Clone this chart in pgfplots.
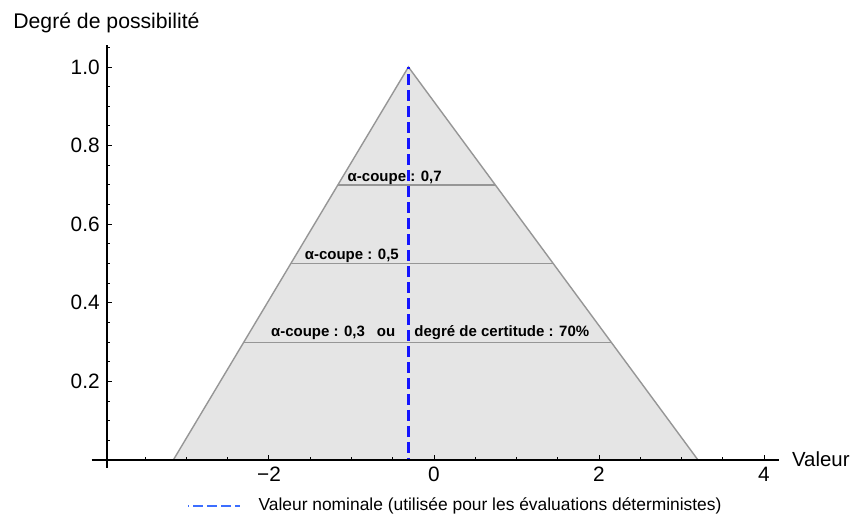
\documentclass[border=0pt]{standalone}
\usepackage{fontspec}
\setmainfont{Liberation Sans}
\usepackage{pgfplots}
\pgfplotsset{compat=1.18}

\definecolor{fillgray}{RGB}{229,229,229}
\definecolor{edgegray}{RGB}{150,150,150}
\definecolor{nomblue}{RGB}{20,20,255}
\definecolor{legblue}{RGB}{60,110,255}

\begin{document}
\begin{tikzpicture}
\begin{axis}[
  x=41.25pt, y=196.5pt,
  xmin=-3.967, xmax=4.18, ymin=0, ymax=1.056,
  axis x line=bottom, axis y line=left,
  axis line style={-, line width=1pt, black},
  x axis line style={shorten <=-7.5pt},
  y axis line style={shorten <=-4pt},
  axis on top,
  clip=false,
  tick align=inside,
  major tick length=2.6pt, minor tick length=1.6pt,
  tick style={black, line width=0.5pt},
  xtick={-2,0,2,4}, xticklabels={−2,0,2,4},
  minor xtick={-3.5,-3,-2.5,-1.5,-1,-0.5,0.5,1,1.5,2.5,3,3.5},
  ytick={0.2,0.4,0.6,0.8,1.0}, yticklabels={0.2,0.4,0.6,0.8,1.0},
  minor ytick={0.05,0.1,0.15,0.25,0.3,0.35,0.45,0.5,0.55,0.65,0.7,0.75,0.85,0.9,0.95,1.05},
  ticklabel style={font=\fontsize{10.4}{12}\selectfont},
  legend style={at={(0.1194,-0.1108)}, anchor=west, draw=none, fill=none,
                inner sep=0pt, font=\fontsize{8.7}{10}\selectfont},
  legend cell align=left,
]
% triangular possibility distribution: support [-3.16, 3.2], mode -0.31
\addplot[fill=fillgray, draw=edgegray, line width=0.7pt, forget plot]
  coordinates {(-3.16,0) (-0.31,1) (3.2,0)} -- cycle;

% alpha-cuts
\addplot[edgegray, line width=0.6pt, forget plot] coordinates {(-1.165,0.7) (0.743,0.7)};
\addplot[edgegray, line width=0.6pt, forget plot] coordinates {(-1.735,0.5) (1.445,0.5)};
\addplot[edgegray, line width=0.6pt, forget plot] coordinates {(-2.305,0.3) (2.147,0.3)};

% nominal value
\addplot[nomblue, line width=1.4pt, dash pattern=on 5.5pt off 2.5pt, dash phase=4.5pt,
  legend image code/.code={\draw[line width=0.8pt, color=legblue, dash pattern=on 5pt off 2pt]
    (0pt,0pt) -- (26pt,0pt); \path (32.5pt,0pt);}]
  coordinates {(-0.31,1) (-0.31,0)};
\addlegendentry{Valeur nominale (utilisée pour les évaluations déterministes)}

\begin{scope}[every node/.style={inner sep=0pt, font=\bfseries\fontsize{7.5}{9}\selectfont}]
\node[anchor=base] at (axis cs:-0.476,0.708) {α-coupe : 0,7};
\node[anchor=base] at (axis cs:-0.996,0.511) {α-coupe : 0,5};
\node[anchor=base east] at (axis cs:-0.464,0.3137) {α-coupe : 0,3\hspace{6pt}ou};
\node[anchor=base west] at (axis cs:-0.242,0.3137) {degré de certitude : 70\%};
\end{scope}

\node[anchor=base west, inner sep=0pt, font=\fontsize{10.6}{12}\selectfont]
  at (axis cs:-5.103,1.0985) {Degré de possibilité};
\node[anchor=base west, inner sep=0pt, font=\fontsize{10.2}{12}\selectfont]
  at (axis cs:4.336,-0.017) {Valeur};

\path (axis cs:-5.2606,-0.1476) rectangle (axis cs:5.1152,1.1705);
\end{axis}
\end{tikzpicture}
\end{document}
